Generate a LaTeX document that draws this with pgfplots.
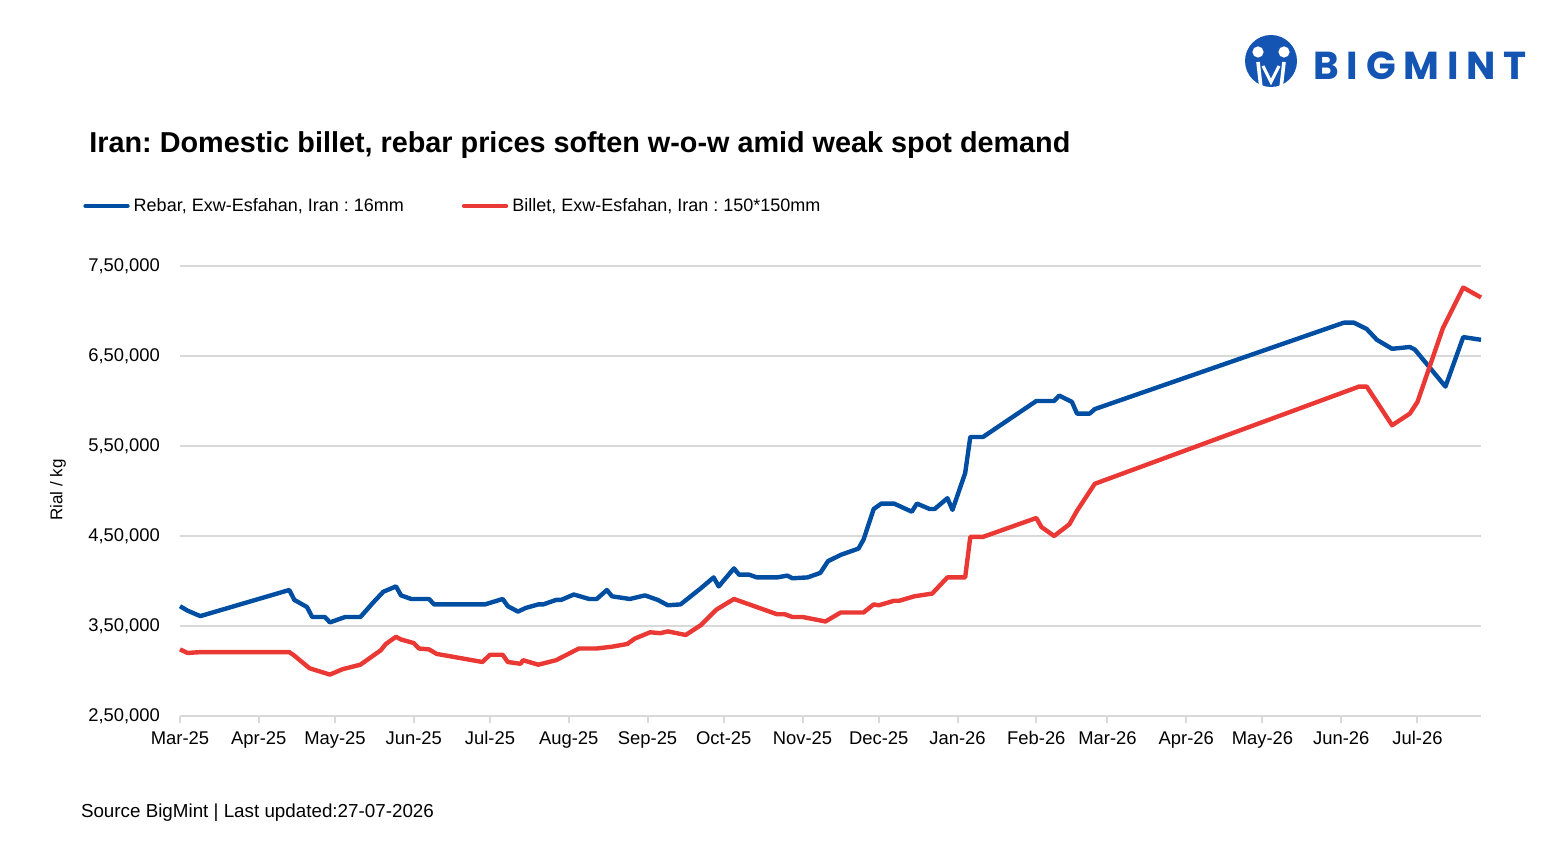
\documentclass[border=0pt]{standalone}
\usepackage{fontspec}
\setmainfont{Liberation Sans}
\newfontfamily\logofont[LetterSpace=20]{Poppins}
\usepackage{pgfplots}
\usepackage{pgfplotstable}
\pgfplotsset{compat=1.18}
\definecolor{rebar}{RGB}{0,78,162}
\definecolor{billet}{RGB}{234,56,52}
\definecolor{gridc}{RGB}{217,217,217}
\definecolor{logob}{RGB}{20,85,180}
\frenchspacing

% x = days since 1 Mar 2025
\pgfplotstableread{
d v
0 372000
3 367000
8 361000
43 390000
45 379000
50 371000
52 360000
57 360000
59 354000
62 357000
65 360000
71 360000
76 376000
80 388000
85 394000
87 384000
91 380000
98 380000
100 374000
120 374000
127 380000
129 372000
133 366000
136 370000
141 374000
143 374000
148 379000
150 379000
155 385000
161 380000
164 380000
168 390000
170 383000
177 380000
183 384000
188 379000
192 373000
197 374000
205 392000
210 404000
212 394000
218 414000
220 407000
224 407000
227 404000
235 404000
239 406000
241 403000
247 404000
252 409000
255 422000
260 429000
267 436000
269 446000
273 480000
276 486000
281 486000
288 477000
290 486000
295 480000
297 480000
302 492000
304 479000
309 520000
311 560000
316 560000
337 600000
344 600000
346 606000
351 599000
353 586000
358 586000
360 591000
458 687000
462 687000
467 680000
471 668000
477 658000
484 660000
486 657000
498 616000
505 671000
512 668000
}\rebartab

\pgfplotstableread{
d v
0 324000
3 320000
8 321000
43 321000
45 317000
51 303000
59 296000
64 302000
71 307000
79 323000
81 330000
85 338000
87 335000
92 331000
94 325000
98 324000
101 319000
119 310000
122 318000
127 318000
129 310000
134 308000
135 312000
141 307000
148 312000
157 325000
164 325000
170 327000
176 330000
179 336000
185 343000
189 342000
192 344000
199 340000
205 351000
211 368000
218 380000
224 374000
235 363000
238 363000
241 360000
245 360000
254 355000
260 365000
269 365000
273 374000
275 373000
281 378000
283 378000
289 383000
296 386000
302 404000
309 404000
311 449000
316 449000
337 470000
339 460000
344 450000
350 463000
353 478000
360 508000
464 616000
467 616000
471 599000
477 573000
484 586000
487 599000
497 681000
505 726000
512 715000
}\billettab

\begin{document}
\begin{tikzpicture}
\path[use as bounding box] (0,0) rectangle (783pt,430pt);
\begin{axis}[
  at={(90pt,72pt)}, anchor=south west,
  scale only axis, width=650.5pt, height=225pt,
  xmin=0, xmax=512, ymin=250000, ymax=750000,
  axis x line*=bottom, axis y line*=left,
  y axis line style={draw=none},
  x axis line style={draw=gridc, line width=1pt},
  xtick={0,31,61,92,122,153,184,214,245,275,306,337,365,396,426,457,487},
  xticklabels={Mar-25,Apr-25,May-25,Jun-25,Jul-25,Aug-25,Sep-25,Oct-25,Nov-25,Dec-25,Jan-26,Feb-26,Mar-26,Apr-26,May-26,Jun-26,Jul-26},
  ytick={250000,350000,450000,550000,650000,750000},
  yticklabels={{2,50,000},{3,50,000},{4,50,000},{5,50,000},{6,50,000},{7,50,000}},
  scaled y ticks=false,
  ymajorgrids, grid style={draw=gridc, line width=0.8pt},
  tick label style={font=\fontsize{9.2}{11}\selectfont, text=black},
  /pgf/number format/assume math mode=true,
  ytick style={draw=none},
  xtick style={draw=gridc, line width=1pt},
  tick align=outside, major tick length=3.5pt,
  xticklabel style={yshift=1pt, text height=1.6ex, text depth=0.3ex},
  yticklabel style={xshift=-3pt},
  legend style={at={(axis description cs:-0.0746,1.1333)}, anchor=west,
    draw=none, fill=none, inner sep=0pt,
    font=\fontsize{9}{11}\selectfont,
    /tikz/every even column/.append style={column sep=27pt}},
  legend columns=2,
  legend image code/.code={\draw[#1, line width=2.2pt, line cap=round] (0pt,0pt) -- (21pt,0pt);},
  clip=false,
]
\addplot[rebar, line width=2.2pt, line join=round] table[x=d,y=v] {\rebartab};
\addlegendentry{Rebar, Exw-Esfahan, Iran : 16mm}
\addplot[billet, line width=2.2pt, line join=round] table[x=d,y=v] {\billettab};
\addlegendentry{Billet, Exw-Esfahan, Iran : 150*150mm}
\end{axis}

% title
\node[anchor=base west, inner sep=0pt, font=\bfseries\fontsize{14.4}{17}\selectfont] at (44.5pt,353.5pt)
  {Iran: Domestic billet, rebar prices soften w-o-w amid weak spot demand};
% y label
\node[rotate=90, font=\fontsize{8.5}{10}\selectfont] at (29pt,185pt) {Rial / kg};
% source
\node[anchor=base west, inner sep=0pt, font=\fontsize{9.4}{11}\selectfont] at (40.3pt,21pt)
  {Source BigMint | Last updated:27-07-2026};
% logo
\fill[logob] (635.5pt,399.5pt) circle (13pt);
\fill[white] (629pt,404pt) circle (2.8pt);
\fill[white] (642pt,404pt) circle (2.8pt);
\draw[white, line width=1.8pt] (629pt,399pt) -- (630.5pt,386pt);
\draw[white, line width=1.8pt] (642pt,399pt) -- (640.5pt,386pt);
\draw[white, line width=1.5pt] (631.5pt,397pt) -- (635.5pt,389pt) -- (639.5pt,397pt);
\node[anchor=west, inner sep=0pt, text=logob, font=\logofont\bfseries\fontsize{19.5}{20}\selectfont] at (656.5pt,397pt) {BIGMINT};
\end{tikzpicture}
\end{document}
